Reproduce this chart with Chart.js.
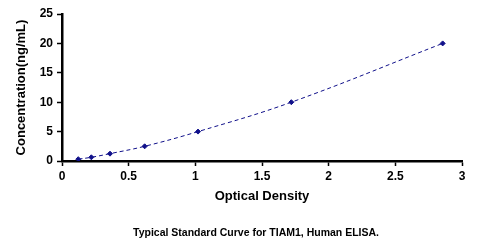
<!DOCTYPE html>
<html>
<head>
<meta charset="utf-8">
<script src="https://cdn.jsdelivr.net/npm/chart.js@4"></script>
<style>
  html, body { margin: 0; padding: 0; background: #fff; }
  #wrap { width: 493px; height: 246px; position: relative; }
</style>
</head>
<body>
<div id="wrap"><canvas id="myChart" width="493" height="246"></canvas></div>
<script>
// valores
const odValues = [0.122, 0.22, 0.36, 0.62, 1.02, 1.72, 2.855];
const concValues = [0.31, 0.63, 1.25, 2.5, 5, 10, 20];
const xTicks = [0, 0.5, 1, 1.5, 2, 2.5, 3];
const yTicks = [0, 5, 10, 15, 20, 25];
const caption = "Typical Standard Curve for TIAM1, Human ELISA.";

const navy = "#10108a";
const family = "'Liberation Sans', Arial, sans-serif";
const tickFont = { family: family, size: 12, weight: "bold" };
const titleFont = { family: family, size: 13, weight: "bold" };

// legenda de baixo
const captionPlugin = {
  id: "caption",
  afterDraw(chart) {
    const c = chart.ctx;
    c.save();
    c.font = "bold 10.5px " + family;
    c.fillStyle = "#000";
    c.textAlign = "center";
    c.textBaseline = "middle";
    c.fillText(caption, 256, 233);
    c.restore();
  },
};

new Chart(document.getElementById("myChart"), {
  type: "scatter",
  data: {
    datasets: [
      {
        data: odValues.map((x, i) => ({ x: x, y: concValues[i] })),
        showLine: true,
        tension: 0.4,
        borderColor: navy,
        borderWidth: 1,
        borderDash: [4, 3],
        pointStyle: "rectRot",
        pointRadius: 2.5,
        pointBackgroundColor: navy,
        pointBorderColor: navy,
      },
    ],
  },
  plugins: [captionPlugin],
  options: {
    responsive: false,
    animation: false,
    layout: { padding: { left: 0, top: 14, right: 31, bottom: 38 } },
    plugins: { legend: { display: false }, tooltip: { enabled: false } },
    scales: {
      x: {
        type: "linear",
        min: 0,
        max: 3,
        afterBuildTicks: (s) => { s.ticks = xTicks.map((v) => ({ value: v })); },
        afterFit: (s) => { s.height = 47; },
        border: { color: "#000", width: 2.5 },
        grid: { drawOnChartArea: false, color: "#000", tickLength: 5, tickWidth: 1.5 },
        ticks: { color: "#000", font: tickFont, padding: 3, maxRotation: 0, callback: (v) => String(v) },
        title: { display: true, text: "Optical Density", color: "#000", font: titleFont, padding: { top: 0 } },
      },
      y: {
        type: "linear",
        min: 0,
        max: 25,
        afterBuildTicks: (s) => { s.ticks = yTicks.map((v) => ({ value: v })); },
        afterFit: (s) => { s.width = 62; },
        border: { color: "#000", width: 2.5 },
        grid: { drawOnChartArea: false, color: "#000", tickLength: 5, tickWidth: 1.5 },
        ticks: { color: "#000", font: tickFont, padding: 4, callback: (v) => String(v) },
        title: { display: true, text: "Concentration(ng/mL)", color: "#000", font: titleFont, padding: { top: 14 } },
      },
    },
  },
});
</script>
</body>
</html>
